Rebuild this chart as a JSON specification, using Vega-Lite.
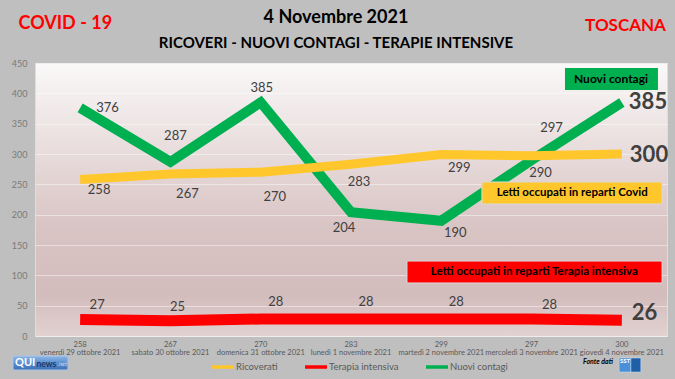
{
  "$schema": "https://vega.github.io/schema/vega-lite/v6.json",
  "width": 632,
  "height": 273,
  "autosize": "none",
  "padding": {"left": 35, "top": 63, "right": 8, "bottom": 43},
  "background": "#bfbfbf",
  "title": {
    "text": "4 Novembre 2021",
    "subtitle": "RICOVERI - NUOVI CONTAGI - TERAPIE INTENSIVE",
    "fontSize": 18,
    "fontWeight": "bold",
    "color": "#000000",
    "subtitleFontSize": 15,
    "subtitleFontWeight": "bold",
    "subtitleColor": "#000000",
    "anchor": "middle",
    "frame": "group",
    "offset": 0,
    "dy": 37,
    "subtitlePadding": 9,
    "dx": -15,
    "font": "Lato",
    "subtitleFont": "Lato"
  },
  "config": {
    "font": "Lato",
    "view": {
      "fill": {
        "gradient": "linear",
        "x1": 0, "y1": 0, "x2": 0, "y2": 1,
        "stops": [
          {"offset": 0, "color": "#faf8f8"},
          {"offset": 0.6, "color": "#d9c4c4"},
          {"offset": 0.85, "color": "#d3bcbc"},
          {"offset": 1, "color": "#e2d2d2"}
        ]
      },
      "stroke": "#e4dcdc",
      "strokeWidth": 1
    },
    "axisY": {
      "grid": true,
      "gridColor": "#ffffff",
      "gridOpacity": 0.45,
      "gridWidth": 1,
      "ticks": false,
      "domain": false,
      "labelColor": "#7a7a7a",
      "labelFontSize": 9,
      "labelPadding": 8,
      "tickCount": 10,
      "titleAngle": 0,
      "titleAlign": "left",
      "titleBaseline": "middle",
      "titleX": -17,
      "titleY": -40,
      "titleColor": "#ff0000",
      "titleFontSize": 18,
      "titleFontWeight": "bold"
    },
    "axisX": {
      "ticks": false,
      "domain": false,
      "grid": false,
      "labelAngle": 0,
      "labelFontSize": 7.5,
      "labelColor": "#595959",
      "labelLineHeight": 8,
      "labelPadding": 4,
      "labelOverlap": false,
      "titleX": 590,
      "titleY": -311,
      "titleAlign": "center",
      "titleBaseline": "middle",
      "titleColor": "#ff0000",
      "titleFontSize": 17,
      "titleFontWeight": "bold"
    },
    "text": {"fontSize": 13, "color": "#404040", "baseline": "middle"},
    "legend": {
      "orient": "none",
      "legendX": 175,
      "legendY": 291,
      "direction": "horizontal",
      "symbolType": "stroke",
      "symbolStrokeWidth": 3.5,
      "symbolSize": 484,
      "labelFontSize": 9.5,
      "labelColor": "#595959",
      "labelOffset": 0,
      "columnPadding": 20,
      "title": null
    }
  },
  "data": {
    "values": [
      {"n": 1, "giorno": "258|venerdì 29 ottobre 2021", "Ricoverati": 258, "Terapia intensiva": 27, "Nuovi contagi": 376},
      {"n": 2, "giorno": "267|sabato 30 ottobre 2021", "Ricoverati": 267, "Terapia intensiva": 25, "Nuovi contagi": 287},
      {"n": 3, "giorno": "270|domenica 31 ottobre 2021", "Ricoverati": 270, "Terapia intensiva": 28, "Nuovi contagi": 385},
      {"n": 4, "giorno": "283|lunedì 1 novembre 2021", "Ricoverati": 283, "Terapia intensiva": 28, "Nuovi contagi": 204},
      {"n": 5, "giorno": "299|martedì 2 novembre 2021", "Ricoverati": 299, "Terapia intensiva": 28, "Nuovi contagi": 190},
      {"n": 6, "giorno": "297|mercoledì 3 novembre 2021", "Ricoverati": 297, "Terapia intensiva": 28, "Nuovi contagi": 290},
      {"n": 7, "giorno": "300|giovedì 4 novembre 2021", "Ricoverati": 300, "Terapia intensiva": 26, "Nuovi contagi": 385}
    ]
  },
  "encoding": {
    "x": {
      "field": "giorno",
      "type": "ordinal",
      "sort": null,
      "bandPosition": 0.5,
      "title": "TOSCANA",
      "scale": {"type": "band", "paddingInner": 0, "paddingOuter": 0},
      "axis": {"labelExpr": "split(datum.value, '|')"}
    }
  },
  "layer": [
    {
      "mark": {"type": "line", "strokeWidth": 11, "strokeCap": "butt", "strokeJoin": "miter"},
      "encoding": {
        "y": {"field": "Terapia intensiva", "type": "quantitative", "title": "COVID - 19", "scale": {"domain": [0, 450], "nice": false}},
        "color": {"datum": "Terapia intensiva", "type": "nominal", "scale": {"domain": ["Ricoverati", "Terapia intensiva", "Nuovi contagi"], "range": ["#ffc72c", "#ff0000", "#00b050"]}}
      }
    },
    {
      "mark": {"type": "line", "strokeWidth": 10, "strokeCap": "butt", "strokeJoin": "miter"},
      "encoding": {
        "y": {"field": "Nuovi contagi", "type": "quantitative", "title": "COVID - 19"},
        "color": {"datum": "Nuovi contagi", "type": "nominal"}
      }
    },
    {
      "mark": {"type": "line", "strokeWidth": 9, "strokeCap": "butt", "strokeJoin": "miter"},
      "encoding": {
        "y": {"field": "Ricoverati", "type": "quantitative", "title": "COVID - 19"},
        "color": {"datum": "Ricoverati", "type": "nominal"}
      }
    },

    {"transform": [{"filter": "datum.n == 1"}], "mark": {"type": "text", "align": "left", "dx": 16, "dy": 0}, "encoding": {"y": {"field": "Nuovi contagi", "type": "quantitative", "title": "COVID - 19"}, "text": {"field": "Nuovi contagi"}}},
    {"transform": [{"filter": "datum.n == 2"}], "mark": {"type": "text", "dx": 5, "dy": -26}, "encoding": {"y": {"field": "Nuovi contagi", "type": "quantitative", "title": "COVID - 19"}, "text": {"field": "Nuovi contagi"}}},
    {"transform": [{"filter": "datum.n == 3"}], "mark": {"type": "text", "dx": 1, "dy": -14}, "encoding": {"y": {"field": "Nuovi contagi", "type": "quantitative", "title": "COVID - 19"}, "text": {"field": "Nuovi contagi"}}},
    {"transform": [{"filter": "datum.n == 4"}], "mark": {"type": "text", "dx": -7, "dy": 16}, "encoding": {"y": {"field": "Nuovi contagi", "type": "quantitative", "title": "COVID - 19"}, "text": {"field": "Nuovi contagi"}}},
    {"transform": [{"filter": "datum.n == 5"}], "mark": {"type": "text", "dx": 14, "dy": 12}, "encoding": {"y": {"field": "Nuovi contagi", "type": "quantitative", "title": "COVID - 19"}, "text": {"field": "Nuovi contagi"}}},
    {"transform": [{"filter": "datum.n == 6"}], "mark": {"type": "text", "dx": 9, "dy": 13}, "encoding": {"y": {"field": "Nuovi contagi", "type": "quantitative", "title": "COVID - 19"}, "text": {"field": "Nuovi contagi"}}},
    {"transform": [{"filter": "datum.n == 7"}], "mark": {"type": "text", "align": "left", "dx": 7, "dy": 0, "fontSize": 22, "fontWeight": "bold"}, "encoding": {"y": {"field": "Nuovi contagi", "type": "quantitative", "title": "COVID - 19"}, "text": {"field": "Nuovi contagi"}}},

    {"transform": [{"filter": "datum.n == 1"}], "mark": {"type": "text", "dx": 19, "dy": 11}, "encoding": {"y": {"field": "Ricoverati", "type": "quantitative", "title": "COVID - 19"}, "text": {"field": "Ricoverati"}}},
    {"transform": [{"filter": "datum.n == 2"}], "mark": {"type": "text", "dx": 17, "dy": 20}, "encoding": {"y": {"field": "Ricoverati", "type": "quantitative", "title": "COVID - 19"}, "text": {"field": "Ricoverati"}}},
    {"transform": [{"filter": "datum.n == 3"}], "mark": {"type": "text", "dx": 14, "dy": 25}, "encoding": {"y": {"field": "Ricoverati", "type": "quantitative", "title": "COVID - 19"}, "text": {"field": "Ricoverati"}}},
    {"transform": [{"filter": "datum.n == 4"}], "mark": {"type": "text", "dx": 8, "dy": 18}, "encoding": {"y": {"field": "Ricoverati", "type": "quantitative", "title": "COVID - 19"}, "text": {"field": "Ricoverati"}}},
    {"transform": [{"filter": "datum.n == 5"}], "mark": {"type": "text", "dx": 18, "dy": 13}, "encoding": {"y": {"field": "Ricoverati", "type": "quantitative", "title": "COVID - 19"}, "text": {"field": "Ricoverati"}}},
    {"transform": [{"filter": "datum.n == 6"}], "mark": {"type": "text", "dx": 20, "dy": -28}, "encoding": {"y": {"field": "Ricoverati", "type": "quantitative", "title": "COVID - 19"}, "text": {"field": "Ricoverati"}}},
    {"transform": [{"filter": "datum.n == 7"}], "mark": {"type": "text", "align": "left", "dx": 8, "dy": 1, "fontSize": 22, "fontWeight": "bold"}, "encoding": {"y": {"field": "Ricoverati", "type": "quantitative", "title": "COVID - 19"}, "text": {"field": "Ricoverati"}}},

    {"transform": [{"filter": "datum.n == 1"}], "mark": {"type": "text", "dx": 17, "dy": -15}, "encoding": {"y": {"field": "Terapia intensiva", "type": "quantitative", "title": "COVID - 19"}, "text": {"field": "Terapia intensiva"}}},
    {"transform": [{"filter": "datum.n == 2"}], "mark": {"type": "text", "dx": 7, "dy": -14}, "encoding": {"y": {"field": "Terapia intensiva", "type": "quantitative", "title": "COVID - 19"}, "text": {"field": "Terapia intensiva"}}},
    {"transform": [{"filter": "datum.n >= 3 && datum.n <= 5"}], "mark": {"type": "text", "dx": 15, "dy": -17}, "encoding": {"y": {"field": "Terapia intensiva", "type": "quantitative", "title": "COVID - 19"}, "text": {"field": "Terapia intensiva"}}},
    {"transform": [{"filter": "datum.n == 6"}], "mark": {"type": "text", "dx": 18, "dy": -14}, "encoding": {"y": {"field": "Terapia intensiva", "type": "quantitative", "title": "COVID - 19"}, "text": {"field": "Terapia intensiva"}}},
    {"transform": [{"filter": "datum.n == 7"}], "mark": {"type": "text", "align": "left", "dx": 10, "dy": -7, "fontSize": 22, "fontWeight": "bold"}, "encoding": {"y": {"field": "Terapia intensiva", "type": "quantitative", "title": "COVID - 19"}, "text": {"field": "Terapia intensiva"}}},

    {
      "data": {"values": [{}]},
      "mark": {"type": "rect", "fill": "#00b050"},
      "encoding": {
        "x": {"datum": "297|mercoledì 3 novembre 2021", "type": "ordinal", "bandPosition": 0.87},
        "x2": {"datum": "300|giovedì 4 novembre 2021", "bandPosition": 0.9},
        "y": {"datum": 441.8, "type": "quantitative"},
        "y2": {"datum": 405.5}
      }
    },
    {
      "data": {"values": [{}]},
      "mark": {"type": "text", "text": "Nuovi contagi", "fontSize": 12, "fontWeight": "bold", "color": "#000000", "align": "center"},
      "encoding": {
        "x": {"datum": "300|giovedì 4 novembre 2021", "type": "ordinal", "bandPosition": 0.38},
        "y": {"datum": 423.6, "type": "quantitative"}
      }
    },
    {
      "data": {"values": [{}]},
      "mark": {"type": "rect", "fill": "#ffc72c", "stroke": "#d9d9d9", "strokeWidth": 1},
      "encoding": {
        "x": {"datum": "299|martedì 2 novembre 2021", "type": "ordinal", "bandPosition": 0.95},
        "x2": {"datum": "300|giovedì 4 novembre 2021", "bandPosition": 0.945},
        "y": {"datum": 253.9, "type": "quantitative"},
        "y2": {"datum": 217.6}
      }
    },
    {
      "data": {"values": [{}]},
      "mark": {"type": "text", "text": "Letti occupati in reparti Covid", "fontSize": 11.5, "fontWeight": "bold", "color": "#000000", "align": "center"},
      "encoding": {
        "x": {"datum": "297|mercoledì 3 novembre 2021", "type": "ordinal", "bandPosition": 0.95},
        "y": {"datum": 235.7, "type": "quantitative"}
      }
    },
    {
      "data": {"values": [{}]},
      "mark": {"type": "rect", "fill": "#ff0000", "stroke": "#d9d9d9", "strokeWidth": 1},
      "encoding": {
        "x": {"datum": "299|martedì 2 novembre 2021", "type": "ordinal", "bandPosition": 0.12},
        "x2": {"datum": "300|giovedì 4 novembre 2021", "bandPosition": 0.945},
        "y": {"datum": 123.6, "type": "quantitative"},
        "y2": {"datum": 87.4}
      }
    },
    {
      "data": {"values": [{}]},
      "mark": {"type": "text", "text": "Letti occupati in reparti Terapia intensiva", "fontSize": 11.5, "fontWeight": "bold", "color": "#000000", "align": "center"},
      "encoding": {
        "x": {"datum": "297|mercoledì 3 novembre 2021", "type": "ordinal", "bandPosition": 0.53},
        "y": {"datum": 105.5, "type": "quantitative"}
      }
    },
    {
      "data": {"values": [{}]},
      "mark": {"type": "text", "text": "Fonte dati", "fontSize": 7, "fontWeight": "bold", "fontStyle": "italic", "color": "#000000", "align": "left"},
      "encoding": {
        "x": {"datum": "300|giovedì 4 novembre 2021", "type": "ordinal", "bandPosition": 0.07},
        "y": {"datum": -42.9, "type": "quantitative"}
      }
    },
    {
      "data": {"values": [{}]},
      "mark": {"type": "rect", "fill": "#4a90d9", "stroke": "#cfe2f5", "strokeWidth": 0.5},
      "encoding": {
        "x": {"datum": "300|giovedì 4 novembre 2021", "type": "ordinal", "bandPosition": 0.47},
        "x2": {"datum": "300|giovedì 4 novembre 2021", "bandPosition": 0.6},
        "y": {"datum": -36.3, "type": "quantitative"},
        "y2": {"datum": -59.3}
      }
    },
    {
      "data": {"values": [{}]},
      "mark": {"type": "rect", "fill": "#1f5fa8", "stroke": "#cfe2f5", "strokeWidth": 0.5},
      "encoding": {
        "x": {"datum": "300|giovedì 4 novembre 2021", "type": "ordinal", "bandPosition": 0.6},
        "x2": {"datum": "300|giovedì 4 novembre 2021", "bandPosition": 0.71},
        "y": {"datum": -36.3, "type": "quantitative"},
        "y2": {"datum": -59.3}
      }
    },
    {
      "data": {"values": [{}]},
      "mark": {"type": "text", "text": "SST", "fontSize": 6, "fontWeight": "bold", "color": "#ffffff", "align": "center"},
      "encoding": {
        "x": {"datum": "300|giovedì 4 novembre 2021", "type": "ordinal", "bandPosition": 0.535},
        "y": {"datum": -41, "type": "quantitative"}
      }
    },
    {
      "data": {"values": [{}]},
      "mark": {"type": "rect", "xOffset": -22, "x2Offset": 33, "cornerRadius": 2, "stroke": "#a9c6ea", "strokeWidth": 1,
        "fill": {"gradient": "linear", "x1": 0, "y1": 0, "x2": 0, "y2": 1, "stops": [{"offset": 0, "color": "#8fb6e6"}, {"offset": 0.5, "color": "#5b8fd0"}, {"offset": 1, "color": "#3e70b4"}]}},
      "encoding": {
        "x": {"datum": "258|venerdì 29 ottobre 2021", "type": "ordinal", "bandPosition": 0},
        "x2": {"datum": "258|venerdì 29 ottobre 2021", "bandPosition": 0},
        "y": {"datum": -33, "type": "quantitative"},
        "y2": {"datum": -56}
      }
    },
    {
      "data": {"values": [{}]},
      "mark": {"type": "text", "text": "QUI", "fontSize": 11, "fontWeight": "bold", "color": "#ffffff", "align": "left", "dx": -20},
      "encoding": {
        "x": {"datum": "258|venerdì 29 ottobre 2021", "type": "ordinal", "bandPosition": 0},
        "y": {"datum": -44.5, "type": "quantitative"}
      }
    },
    {
      "data": {"values": [{}]},
      "mark": {"type": "text", "text": "news", "fontSize": 8.5, "fontWeight": "bold", "color": "#1f3864", "align": "left", "dx": 1.5},
      "encoding": {
        "x": {"datum": "258|venerdì 29 ottobre 2021", "type": "ordinal", "bandPosition": 0},
        "y": {"datum": -45.5, "type": "quantitative"}
      }
    },
    {
      "data": {"values": [{}]},
      "mark": {"type": "text", "text": ".net", "fontSize": 6, "fontStyle": "italic", "color": "#c9dcf3", "align": "left", "dx": 22.5},
      "encoding": {
        "x": {"datum": "258|venerdì 29 ottobre 2021", "type": "ordinal", "bandPosition": 0},
        "y": {"datum": -46, "type": "quantitative"}
      }
    }
  ]
}
